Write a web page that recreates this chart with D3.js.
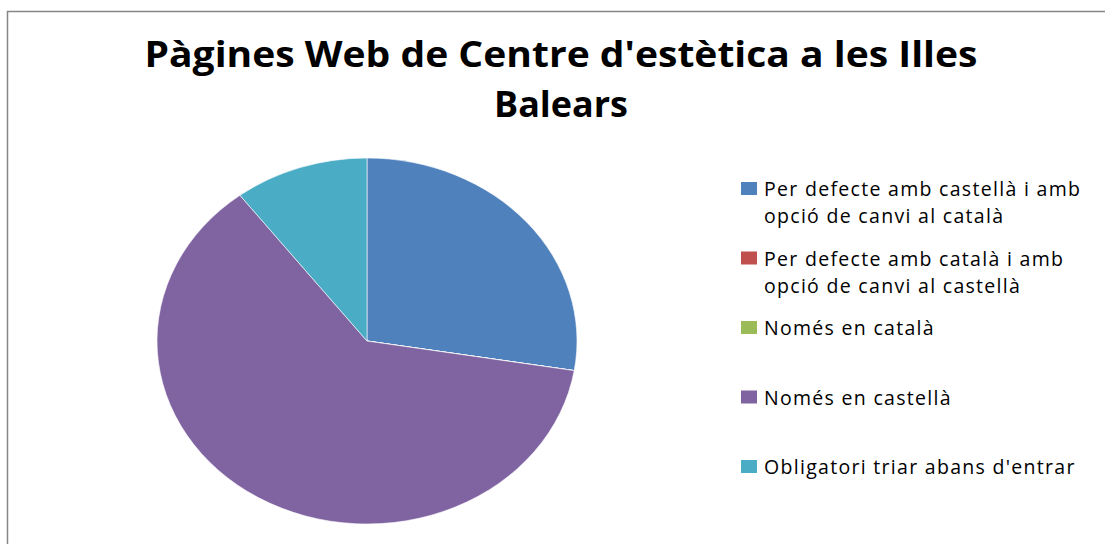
<!DOCTYPE html>
<html>
<head>
<meta charset="utf-8">
<script src="https://cdn.jsdelivr.net/npm/d3@7"></script>
<style>
  body { margin: 0; background: #fff; }
  svg { display: block; }
</style>
</head>
<body>
<svg id="chart" width="1105" height="544"></svg>
<script>
// chart data
const categories = [
  ["Per defecte amb castellà i amb", "opció de canvi al català"],
  ["Per defecte amb català i amb", "opció de canvi al castellà"],
  ["Només en català"],
  ["Només en castellà"],
  ["Obligatori triar abans d'entrar"]
];
const values = [8, 0, 0, 18, 3];
const colors = ["#4F81BD", "#C0504D", "#9BBB59", "#8064A2", "#4BACC6"];
const titleLines = ["Pàgines Web de Centre d'estètica a les Illes", "Balears"];

const svg = d3.select("#chart");

// outer frame (runs past the right and bottom edges)
svg.append("rect")
  .attr("x", 7.5).attr("y", 11.5)
  .attr("width", 1110).attr("height", 560)
  .attr("fill", "none")
  .attr("stroke", "#868686")
  .attr("stroke-width", 1.5);

// title
const title = svg.append("g")
  .attr("font-family", "'Open Sans', sans-serif")
  .attr("font-weight", "bold")
  .attr("font-size", 36)
  .attr("text-anchor", "middle")
  .attr("fill", "#000");
const titleWidths = [833, 134];
titleLines.forEach((t, i) => {
  title.append("text")
    .attr("x", 561)
    .attr("y", 67 + i * 50)
    .attr("textLength", titleWidths[i])
    .attr("lengthAdjust", "spacingAndGlyphs")
    .text(t);
});

// pie (slightly stretched horizontally, like the original)
const cx = 367, cy = 341, rx = 210, ry = 183;
const pie = d3.pie().sort(null).value(d => d);
const arc = d3.arc().innerRadius(0).outerRadius(ry);

svg.append("g")
  .attr("transform", `translate(${cx},${cy}) scale(${rx / ry},1)`)
  .selectAll("path")
  .data(pie(values))
  .join("path")
    .attr("d", arc)
    .attr("fill", (d, i) => colors[i])
    .attr("stroke", "#fff")
    .attr("stroke-width", 0.6)
    .attr("vector-effect", "non-scaling-stroke");

// legend
const legend = svg.append("g")
  .attr("font-family", "'Open Sans', sans-serif")
  .attr("font-size", 19.5)
  .attr("letter-spacing", 1.3)
  .attr("fill", "#000");

const item = legend.selectAll("g")
  .data(categories)
  .join("g")
    .attr("transform", (d, i) => `translate(741,${196 + i * 69.5})`);

item.append("rect")
  .attr("x", 0).attr("y", -14)
  .attr("width", 16).attr("height", 13)
  .attr("fill", (d, i) => colors[i]);

item.each(function(lines) {
  const g = d3.select(this);
  lines.forEach((t, j) => {
    g.append("text")
      .attr("x", 23)
      .attr("y", j * 27)
      .text(t);
  });
});
</script>
</body>
</html>
